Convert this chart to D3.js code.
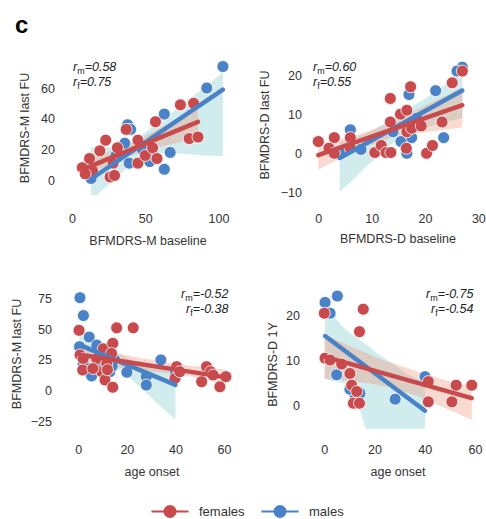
<!DOCTYPE html>
<html>
<head>
<meta charset="utf-8">
<script src="https://cdn.jsdelivr.net/npm/d3@7"></script>
<style>
  body { margin: 0; background: #fff; }
  svg { display: block; font-family: "Liberation Sans", Arial, Helvetica, sans-serif; }
</style>
</head>
<body>
<svg id="chart" width="486" height="519"></svg>
<script>
// ---- data: [x, y] per patient ----
const motorBaselineMales = [[103,74],[92,60],[63,43],[38,36],[40,33],[36,24],[39,11],[67,18],[63,7],[53,12],[13,1],[30,16],[48,20],[56,16]];
const motorBaselineFemales = [[7,8],[12,14],[14,6],[9,4],[23,26],[19,19],[31,21],[28,11],[26,2],[29,3],[37,33],[45,26],[45,11],[50,16],[55,21],[58,14],[57,38],[74,49],[83,50],[80,27],[86,28]];

const disabilityBaselineMales = [[27,22],[26,21],[22,16],[17,15],[23.5,4],[6,6],[15.5,3],[17.5,4],[16.6,0],[18.5,9],[4,0.5],[14,5.5],[8,1]];
const disabilityBaselineFemales = [[0,3],[3,4],[2,1.3],[3,0],[6,4],[6,1.3],[13.5,14],[13.5,8],[10.6,0.2],[11.8,2],[12.7,0.2],[13.6,0.2],[15.4,10],[16.6,11],[17.3,17],[16.6,5.5],[16.5,1.3],[17.5,6.4],[19.3,7],[20.3,0],[21.4,2],[23.2,8],[25.1,18],[27,21]];

const onsetMotorMales = [[0.7,75.5],[2.1,61],[4.5,43.5],[7.6,37],[4.8,14],[5.5,12],[15,25],[20,15],[28,11.5],[28,4.6],[34,25],[13,15.4],[0.5,35.7],[40,14],[2,22],[9,20],[11,28],[14,20]];
const onsetMotorFemales = [[0.3,49],[0.7,29],[2,26],[1.8,16.8],[7.6,26],[10.3,34],[9.6,15.4],[11,8.7],[11.7,22],[14.2,38.5],[13.7,30.3],[14.2,2.8],[15.8,51],[22.6,51],[12,17],[40.5,19.5],[39.8,10],[41.8,15.4],[52.8,19.5],[50.8,7.3],[54.5,15.4],[58.3,3.2],[60.8,11.4],[55.5,12.7],[6,18]];

const onsetDisabilityMales = [[5.2,24.2],[0.3,22.8],[2.3,20.4],[4.9,6.7],[12.2,2.2],[14.2,2.6],[28.2,1.3],[40.1,6.3],[10.2,3.5]];
const onsetDisabilityFemales = [[0,20.4],[0.3,10.4],[2.3,10],[6.9,9.1],[10.2,7],[10.9,4.4],[12.9,3],[11.6,0.4],[14,0.4],[15.5,21.3],[14,16.3],[41.4,5.2],[41.4,0.7],[50.8,0.7],[52.5,4.4],[58.7,4.4]];

// ---- tick values ----
const xTicks1 = [0, 50, 100], yTicks1 = [0, 20, 40, 60];
const xTicks2 = [0, 10, 20, 30], yTicks2 = [-10, 0, 10, 20];
const xTicks3 = [0, 20, 40, 60], yTicks3 = [-25, 0, 25, 50, 75];
const xTicks4 = [0, 20, 40, 60], yTicks4 = [0, 10, 20];

// ---- texts ----
const xTitles = ["BFMDRS-M baseline", "BFMDRS-D baseline", "age onset", "age onset"];
const yTitles = ["BFMDRS-M last FU", "BFMDRS-D last FU", "BFMDRS-M last FU", "BFMDRS-D 1Y"];
const rMales = ["0.58", "0.60", "-0.52", "-0.75"];
const rFemales = ["0.75", "0.55", "-0.38", "-0.54"];
const groupNames = ["females", "males"];

// ---- styling ----
const RED = "#c94a4c", BLUE = "#4a82c8";
const RED_BAND = "#f08a70", BLUE_BAND = "#8ccfd0";

// panel layouts (pixel anchors of two tick values on each axis, and view limits)
const layouts = [
  { xa: [0, 72, 100, 218.5], ya: [0, 180, 60, 88], xlim: [-4, 110], ylim: [-10, 80],
    xAxisY: 211, yAxisX: 58, xTitle: [148, 244.5], yTitle: [25, 128], rPos: [73, 71], rAnchor: "start" },
  { xa: [0, 318.3, 20, 425], ya: [0, 153.3, 20, 75], xlim: [-1.5, 29.5], ylim: [-12, 24],
    xAxisY: 211, yAxisX: 305, xTitle: [398, 243], yTitle: [265, 125], rPos: [313, 71], rAnchor: "start" },
  { xa: [0, 78.3, 60, 224], ya: [0, 390.7, 75, 298.3], xlim: [-3, 64], ylim: [-30, 82],
    xAxisY: 442, yAxisX: 55, xTitle: [152, 475.5], yTitle: [17, 354], rPos: [228.5, 297.5], rAnchor: "end" },
  { xa: [0, 324.3, 60, 475], ya: [0, 405, 20, 315], xlim: [-3, 62], ylim: [-5.3, 26],
    xAxisY: 442, yAxisX: 303, xTitle: [398, 475.5], yTitle: [273, 364.5], rPos: [473.5, 298], rAnchor: "end" }
];
const panelData = [
  [motorBaselineMales, motorBaselineFemales, xTicks1, yTicks1],
  [disabilityBaselineMales, disabilityBaselineFemales, xTicks2, yTicks2],
  [onsetMotorMales, onsetMotorFemales, xTicks3, yTicks3],
  [onsetDisabilityMales, onsetDisabilityFemales, xTicks4, yTicks4]
];

// least squares slope/intercept
function ols(points) {
  const mx = d3.mean(points, d => d[0]), my = d3.mean(points, d => d[1]);
  let sxx = 0, sxy = 0;
  points.forEach(([x, y]) => { sxx += (x - mx) ** 2; sxy += (x - mx) * (y - my); });
  if (sxx === 0) return null;
  const slope = sxy / sxx;
  return { slope, intercept: my - slope * mx };
}

// regression line with a 95% bootstrap (case resampling) confidence band
function linearFit(points, seed) {
  const n = points.length;
  const base = ols(points);
  const [x0, x1] = d3.extent(points, d => d[0]);
  const grid = d3.range(0, 100).map(i => x0 + (x1 - x0) * i / 99);
  const rng = d3.randomLcg(seed);
  const boots = [];
  for (let b = 0; b < 1000; b++) {
    const sample = d3.range(n).map(() => points[Math.floor(rng() * n)]);
    const f = ols(sample);
    if (f) boots.push(f);
  }
  const band = grid.map(x => {
    const preds = boots.map(f => f.intercept + f.slope * x).sort(d3.ascending);
    return { x, lo: d3.quantileSorted(preds, 0.025), hi: d3.quantileSorted(preds, 0.975) };
  });
  return { band, line: [[x0, base.intercept + base.slope * x0], [x1, base.intercept + base.slope * x1]] };
}

const svg = d3.select("#chart");

// panel letter
svg.append("text").attr("x", 15).attr("y", 33)
  .attr("font-size", 24).attr("font-weight", "bold").attr("fill", "#000").text("c");

layouts.forEach((L, i) => {
  const [males, females, xt, yt] = panelData[i];
  const lin = (a) => d3.scaleLinear().domain([a[0], a[2]]).range([a[1], a[3]]);
  const xa = lin(L.xa), ya = lin(L.ya);
  const x = d3.scaleLinear().domain(L.xlim).range([xa(L.xlim[0]), xa(L.xlim[1])]);
  const y = d3.scaleLinear().domain(L.ylim).range([ya(L.ylim[0]), ya(L.ylim[1])]);

  const g = svg.append("g");
  const clipId = "clip" + i;
  g.append("clipPath").attr("id", clipId).append("rect")
    .attr("x", x.range()[0]).attr("y", y.range()[1])
    .attr("width", x.range()[1] - x.range()[0]).attr("height", y.range()[0] - y.range()[1]);

  // axes (no spines, no tick marks)
  const xAxis = g.append("g").attr("transform", `translate(0,${L.xAxisY})`)
    .call(d3.axisBottom(x).tickValues(xt).tickSize(0).tickPadding(3).tickFormat(d3.format("")));
  const yAxis = g.append("g").attr("transform", `translate(${L.yAxisX},0)`)
    .call(d3.axisLeft(y).tickValues(yt).tickSize(0).tickPadding(3).tickFormat(v => (v < 0 ? "\u2212" + Math.abs(v) : String(v))));
  [xAxis, yAxis].forEach(a => {
    a.select(".domain").remove();
    a.selectAll("text").attr("font-size", 12.5).attr("fill", "#333")
      .attr("font-family", '"Liberation Sans", Arial, Helvetica, sans-serif');
  });

  // axis titles
  g.append("text").attr("x", L.xTitle[0]).attr("y", L.xTitle[1]).attr("text-anchor", "middle")
    .attr("font-size", 12.5).attr("fill", "#333").text(xTitles[i]);
  g.append("text").attr("transform", `translate(${L.yTitle[0]},${L.yTitle[1]}) rotate(-90)`)
    .attr("text-anchor", "middle").attr("dominant-baseline", "central")
    .attr("font-size", 12.5).attr("fill", "#333").text(yTitles[i]);

  const fits = [
    { pts: males, fit: linearFit(males, 11 + i), color: BLUE, band: BLUE_BAND, op: 0.4 },
    { pts: females, fit: linearFit(females, 31 + i), color: RED, band: RED_BAND, op: 0.32 }
  ];

  // confidence bands
  const area = d3.area().x(d => x(d.x)).y0(d => y(d.lo)).y1(d => y(d.hi));
  const bands = g.append("g").attr("clip-path", `url(#${clipId})`);
  fits.forEach(f => bands.append("path").attr("d", area(f.fit.band))
    .attr("fill", f.band).attr("fill-opacity", f.op));

  // scatter points
  fits.forEach(f => g.append("g").selectAll("circle").data(f.pts).join("circle")
    .attr("cx", d => x(d[0])).attr("cy", d => y(d[1])).attr("r", 6)
    .attr("fill", f.color).attr("stroke", "#fff").attr("stroke-width", 0.8));

  // regression lines
  const lines = g.append("g").attr("clip-path", `url(#${clipId})`);
  fits.forEach(f => lines.append("path").attr("d", d3.line().x(d => x(d[0])).y(d => y(d[1]))(f.fit.line))
    .attr("stroke", f.color).attr("stroke-width", 4.5).attr("stroke-linecap", "round").attr("fill", "none"));

  // correlation annotation
  const rt = g.append("g").attr("font-size", 12.5).attr("fill", "#222");
  [["m", rMales[i], 0], ["f", rFemales[i], 15]].forEach(([sub, val, dy]) => {
    const t = rt.append("text").attr("x", L.rPos[0]).attr("y", L.rPos[1] + dy).attr("text-anchor", L.rAnchor);
    t.append("tspan").attr("font-style", "italic").text("r");
    t.append("tspan").attr("font-size", 9).attr("dy", 3).text(sub);
    t.append("tspan").attr("font-style", "italic").attr("dy", -3).text("=" + val);
  });
});

// legend
const legend = svg.append("g");
const legendItems = [
  { name: groupNames[0], color: RED, cx: 170, tx: 199 },
  { name: groupNames[1], color: BLUE, cx: 280, tx: 309 }
];
legendItems.forEach(it => {
  legend.append("line").attr("x1", it.cx - 18.5).attr("x2", it.cx + 18.5).attr("y1", 511.5).attr("y2", 511.5)
    .attr("stroke", it.color).attr("stroke-width", 2);
  legend.append("circle").attr("cx", it.cx).attr("cy", 511.5).attr("r", 6.5).attr("fill", it.color);
  legend.append("text").attr("x", it.tx).attr("y", 516).attr("font-size", 13).attr("fill", "#333").text(it.name);
});
</script>
</body>
</html>
